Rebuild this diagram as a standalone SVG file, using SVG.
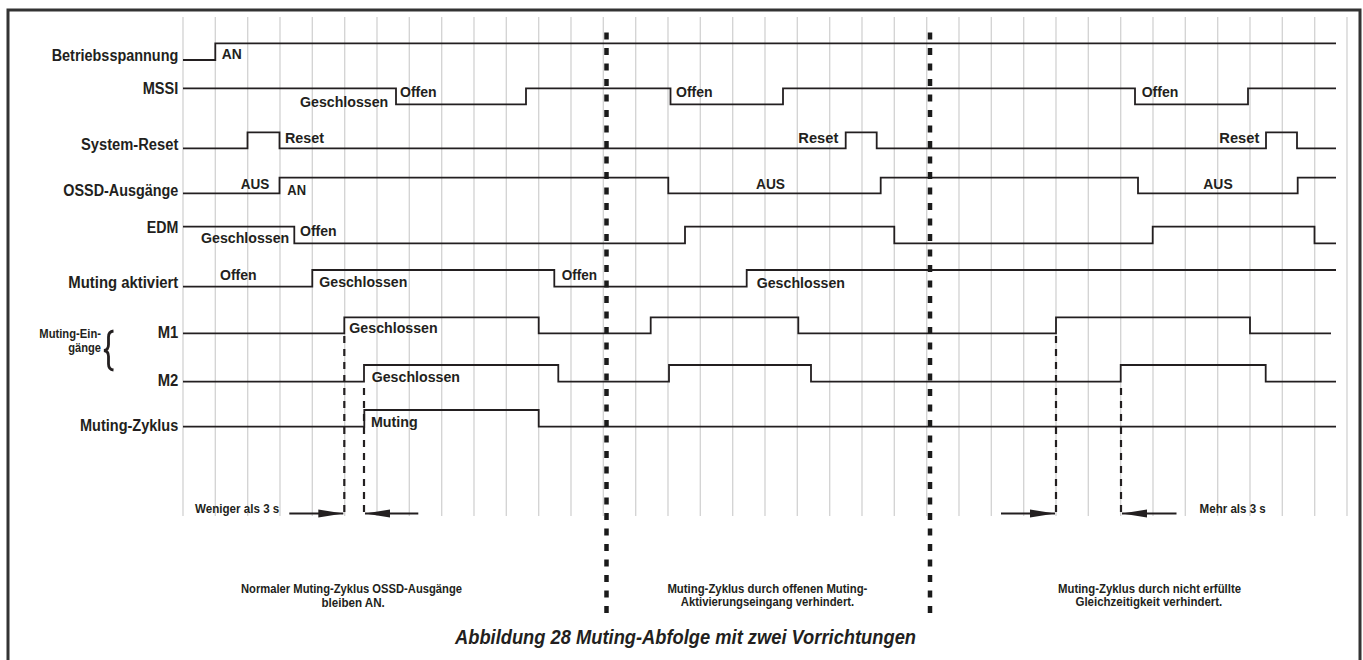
<svg xmlns="http://www.w3.org/2000/svg" width="1363" height="660" viewBox="0 0 1363 660">
<style>
text{font-family:'Liberation Sans Narrow','Liberation Sans',Arial,sans-serif;font-weight:bold;fill:#231f20}
.nm{font-size:16px}
.st{font-size:15px}
.sm{font-size:13px}
.nt{font-size:12.5px}
.tt{font-size:20px;font-style:italic}
.grid line{stroke:#d2d2d2;stroke-width:1.3}
.sig{fill:none;stroke:#231f20;stroke-width:1.8}
.sep{stroke:#1a1a1a;stroke-width:4.5;stroke-dasharray:7 8.5}
.dash{stroke:#231f20;stroke-width:2.2;stroke-dasharray:7 6}
.arr{stroke:#231f20;stroke-width:2;marker-end:url(#ah)}
</style>
<defs>
<marker id="ah" markerUnits="userSpaceOnUse" markerWidth="26" markerHeight="10" refX="25" refY="4.5" orient="auto">
<path d="M0,0.5 L25,4.5 L0,8.5 z" fill="#231f20"/>
</marker>
</defs>
<rect width="1363" height="660" fill="#fff"/>
<path d="M8,660 V10 H1360 V660" fill="none" stroke="#333" stroke-width="3"/>
<g class="grid" id="grid">
<line x1="183" y1="17" x2="183" y2="516"/><line x1="215.3" y1="17" x2="215.3" y2="516"/><line x1="247.7" y1="17" x2="247.7" y2="516"/><line x1="280" y1="17" x2="280" y2="516"/><line x1="312.3" y1="17" x2="312.3" y2="516"/><line x1="344.7" y1="17" x2="344.7" y2="516"/><line x1="377" y1="17" x2="377" y2="516"/><line x1="409.3" y1="17" x2="409.3" y2="516"/><line x1="441.7" y1="17" x2="441.7" y2="516"/><line x1="474" y1="17" x2="474" y2="516"/><line x1="506.3" y1="17" x2="506.3" y2="516"/><line x1="538.7" y1="17" x2="538.7" y2="516"/><line x1="571" y1="17" x2="571" y2="516"/><line x1="603.3" y1="17" x2="603.3" y2="516"/><line x1="635.7" y1="17" x2="635.7" y2="516"/><line x1="668" y1="17" x2="668" y2="516"/><line x1="700.3" y1="17" x2="700.3" y2="516"/><line x1="732.7" y1="17" x2="732.7" y2="516"/><line x1="765" y1="17" x2="765" y2="516"/><line x1="797.3" y1="17" x2="797.3" y2="516"/><line x1="829.7" y1="17" x2="829.7" y2="516"/><line x1="862" y1="17" x2="862" y2="516"/><line x1="894.3" y1="17" x2="894.3" y2="516"/><line x1="926.7" y1="17" x2="926.7" y2="516"/><line x1="959" y1="17" x2="959" y2="516"/><line x1="991.3" y1="17" x2="991.3" y2="516"/><line x1="1023.7" y1="17" x2="1023.7" y2="516"/><line x1="1056" y1="17" x2="1056" y2="516"/><line x1="1088.3" y1="17" x2="1088.3" y2="516"/><line x1="1120.7" y1="17" x2="1120.7" y2="516"/><line x1="1153" y1="17" x2="1153" y2="516"/><line x1="1185.3" y1="17" x2="1185.3" y2="516"/><line x1="1217.7" y1="17" x2="1217.7" y2="516"/><line x1="1250" y1="17" x2="1250" y2="516"/><line x1="1282.3" y1="17" x2="1282.3" y2="516"/><line x1="1314.7" y1="17" x2="1314.7" y2="516"/><line x1="1347" y1="17" x2="1347" y2="516"/>
</g>
<g id="sig-betriebsspannung">
<path class="sig" d="M183,60 H215.3 V43.3 H1336"/>
<text class="nm" x="51.7" y="60.5" textLength="126.6" lengthAdjust="spacingAndGlyphs">Betriebsspannung</text>
<text class="st" x="221.7" y="59" textLength="20" lengthAdjust="spacingAndGlyphs">AN</text>
</g>
<g id="sig-mssi">
<path class="sig" d="M183,88.3 H396 V104.3 H526 V88.3 H670.5 V104.3 H783 V88.3 H1135 V104.3 H1248 V88.3 H1336"/>
<text class="nm" x="142.7" y="94" textLength="35.6" lengthAdjust="spacingAndGlyphs">MSSI</text>
<text class="st" x="300" y="106.7" textLength="88.3" lengthAdjust="spacingAndGlyphs">Geschlossen</text>
<text class="st" x="400" y="97.3" textLength="36.7" lengthAdjust="spacingAndGlyphs">Offen</text>
<text class="st" x="676" y="96.7" textLength="36.7" lengthAdjust="spacingAndGlyphs">Offen</text>
<text class="st" x="1141.7" y="96.7" textLength="36.7" lengthAdjust="spacingAndGlyphs">Offen</text>
</g>
<g id="sig-system-reset">
<path class="sig" d="M183,148.3 H247.5 V132.3 H279.5 V148.3 H845.7 V132.3 H876.7 V148.3 H1266 V132.3 H1297 V148.3 H1336"/>
<text class="nm" x="81" y="149.7" textLength="97.3" lengthAdjust="spacingAndGlyphs">System-Reset</text>
<text class="st" x="285" y="143.3" textLength="39" lengthAdjust="spacingAndGlyphs">Reset</text>
<text class="st" x="798.3" y="143" textLength="40" lengthAdjust="spacingAndGlyphs">Reset</text>
<text class="st" x="1219.3" y="143" textLength="40" lengthAdjust="spacingAndGlyphs">Reset</text>
</g>
<g id="sig-ossd">
<path class="sig" d="M183,193.3 H279.5 V177.7 H668.3 V193.3 H880.7 V177.7 H1138 V193.3 H1297.7 V177.7 H1336"/>
<text class="nm" x="63.3" y="196" textLength="115" lengthAdjust="spacingAndGlyphs">OSSD-Ausgänge</text>
<text class="st" x="240.7" y="189.3" textLength="28.6" lengthAdjust="spacingAndGlyphs">AUS</text>
<text class="st" x="287.3" y="195" textLength="18.7" lengthAdjust="spacingAndGlyphs">AN</text>
<text class="st" x="756" y="189.3" textLength="29" lengthAdjust="spacingAndGlyphs">AUS</text>
<text class="st" x="1203.3" y="189.3" textLength="29.4" lengthAdjust="spacingAndGlyphs">AUS</text>
</g>
<g id="sig-edm">
<path class="sig" d="M183,226.7 H294.3 V243.3 H685 V226.7 H894.3 V243.3 H1152.7 V226.7 H1314.5 V243.3 H1336"/>
<text class="nm" x="146.7" y="233.3" textLength="31.6" lengthAdjust="spacingAndGlyphs">EDM</text>
<text class="st" x="201" y="243.3" textLength="88.3" lengthAdjust="spacingAndGlyphs">Geschlossen</text>
<text class="st" x="300" y="236" textLength="36.7" lengthAdjust="spacingAndGlyphs">Offen</text>
</g>
<g id="sig-muting-aktiviert">
<path class="sig" d="M183,286.7 H312.3 V270 H554.3 V286.7 H746.7 V270 H1336"/>
<text class="nm" x="68.3" y="288.3" textLength="110" lengthAdjust="spacingAndGlyphs">Muting aktiviert</text>
<text class="st" x="220" y="280" textLength="36.7" lengthAdjust="spacingAndGlyphs">Offen</text>
<text class="st" x="319.3" y="287.3" textLength="88" lengthAdjust="spacingAndGlyphs">Geschlossen</text>
<text class="st" x="561.7" y="280" textLength="35.3" lengthAdjust="spacingAndGlyphs">Offen</text>
<text class="st" x="756.7" y="288" textLength="88.3" lengthAdjust="spacingAndGlyphs">Geschlossen</text>
</g>
<g id="muting-eingaenge">
<text class="nt" x="39.3" y="338.3" textLength="61.7" lengthAdjust="spacingAndGlyphs">Muting-Ein-</text>
<text class="nt" x="68.3" y="351.5" textLength="32.7" lengthAdjust="spacingAndGlyphs">gänge</text>
<path d="M113.5,331 Q108.5,331.5 108.5,337 L108.5,344.5 Q108.5,350 104,350.5 Q108.5,351 108.5,356.5 L108.5,364 Q108.5,369.5 113.5,370" fill="none" stroke="#231f20" stroke-width="2.8"/>
</g>
<g id="sig-m1">
<path class="sig" d="M183,333.3 H344.3 V317.3 H538.7 V333.3 H650.7 V317.3 H798.3 V333.3 H1056 V317.3 H1250 V333.3 H1331"/>
<text class="nm" x="157.7" y="338.3" textLength="20.6" lengthAdjust="spacingAndGlyphs">M1</text>
<text class="st" x="349.3" y="333.3" textLength="88.4" lengthAdjust="spacingAndGlyphs">Geschlossen</text>
</g>
<g id="sig-m2">
<path class="sig" d="M183,381.7 H364 V365 H558.3 V381.7 H669 V365 H811 V381.7 H1120.7 V365 H1265.7 V381.7 H1336"/>
<text class="nm" x="157.7" y="385.7" textLength="20.6" lengthAdjust="spacingAndGlyphs">M2</text>
<text class="st" x="371.7" y="381.7" textLength="88.3" lengthAdjust="spacingAndGlyphs">Geschlossen</text>
</g>
<g id="sig-muting-zyklus">
<path class="sig" d="M183,426.7 H364.3 V410 H538.7 V426.7 H1336"/>
<text class="nm" x="80" y="430.7" textLength="98.3" lengthAdjust="spacingAndGlyphs">Muting-Zyklus</text>
<text class="st" x="371" y="427.3" textLength="46.7" lengthAdjust="spacingAndGlyphs">Muting</text>
</g>
<g id="separators">
<line class="sep" x1="606.5" y1="32.5" x2="606.5" y2="616"/>
<line class="sep" x1="930" y1="32.5" x2="930" y2="616"/>
</g>
<g id="connectors">
<line class="dash" x1="344.3" y1="336" x2="344.3" y2="518"/>
<line class="dash" x1="364" y1="388" x2="364" y2="518"/>
<line class="dash" x1="1056" y1="336" x2="1056" y2="518"/>
<line class="dash" x1="1121" y1="388" x2="1121" y2="518"/>
<line class="arr" x1="289.3" y1="513.5" x2="343.3" y2="513.5"/>
<line class="arr" x1="418.3" y1="513.5" x2="365" y2="513.5"/>
<line class="arr" x1="1001" y1="513.5" x2="1055" y2="513.5"/>
<line class="arr" x1="1176.5" y1="513.5" x2="1122" y2="513.5"/>
</g>
<g id="annotations">
<text class="sm" x="195" y="513.3" textLength="84.3" lengthAdjust="spacingAndGlyphs">Weniger als 3 s</text>
<text class="sm" x="1199.6" y="513.3" textLength="66.2" lengthAdjust="spacingAndGlyphs">Mehr als 3 s</text>
<text class="nt" x="241" y="592.5" textLength="221" lengthAdjust="spacingAndGlyphs">Normaler Muting-Zyklus OSSD-Ausgänge</text>
<text class="nt" x="321.4" y="606.5" textLength="63.4" lengthAdjust="spacingAndGlyphs">bleiben AN.</text>
<text class="nt" x="667.4" y="592.5" textLength="200" lengthAdjust="spacingAndGlyphs">Muting-Zyklus durch offenen Muting-</text>
<text class="nt" x="680.8" y="606" textLength="173.4" lengthAdjust="spacingAndGlyphs">Aktivierungseingang verhindert.</text>
<text class="nt" x="1058" y="592.5" textLength="183" lengthAdjust="spacingAndGlyphs">Muting-Zyklus durch nicht erfüllte</text>
<text class="nt" x="1075.5" y="606" textLength="146.8" lengthAdjust="spacingAndGlyphs">Gleichzeitigkeit verhindert.</text>
<text class="tt" x="455" y="644" textLength="461" lengthAdjust="spacingAndGlyphs">Abbildung 28 Muting-Abfolge mit zwei Vorrichtungen</text>
</g>
</svg>
